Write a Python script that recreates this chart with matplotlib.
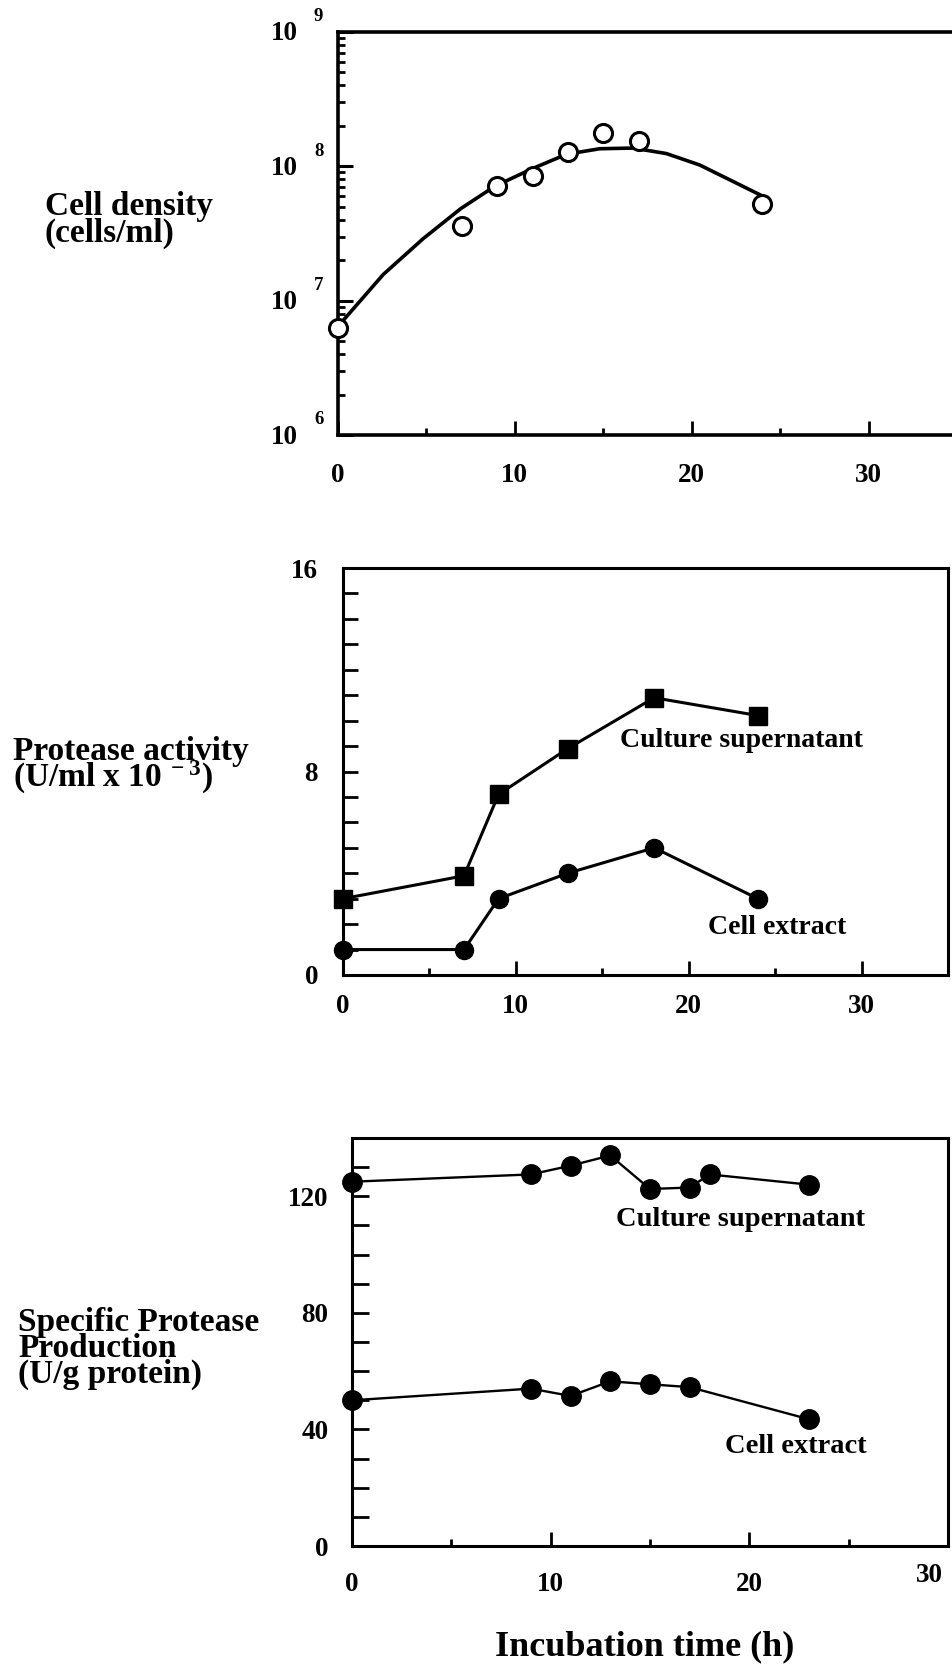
import matplotlib
matplotlib.use("Agg")
import matplotlib.pyplot as plt

# ================================ Data ================================ #

# top panel: cell density (log scale)
t_density = [0, 7, 9, 11, 13, 15, 17, 24]
density = [6.3e6, 3.6e7, 7.1e7, 8.5e7, 1.28e8, 1.76e8, 1.55e8, 5.2e7]
# hand-drawn growth curve
curve_t = [0.3, 2.56, 4.82, 6.95, 8.87, 11.03, 12.92, 14.8, 16.69, 18.57, 20.45, 22.33, 24.2]
curve_log = [6.854, 7.195, 7.462, 7.686, 7.852, 7.985, 8.090, 8.131, 8.136, 8.095, 8.010, 7.888, 7.766]

# middle panel: protease activity (U/ml x 10^-3)
t_activity = [0, 7, 9, 13, 18, 24]
act_supernatant = [3.0, 3.9, 7.1, 8.9, 10.9, 10.2]
act_cell = [1.0, 1.0, 3.0, 4.0, 5.0, 3.0]

# bottom panel: specific protease production (U/g protein)
t_spec_sup = [0, 9, 11, 13, 15, 17, 18, 23]
spec_supernatant = [125, 127.5, 130.5, 134, 122.5, 123, 127.5, 124]
t_spec_cell = [0, 9, 11, 13, 15, 17, 23]
spec_cell = [50, 54, 51.5, 56.5, 55.5, 54.5, 43.5]

x_ticks = [0, 10, 20, 30]
x_minor = [5, 15, 25]

# ================================ Setup ================================ #

plt.rcParams["font.family"] = ["Liberation Serif", "DejaVu Serif"]
plt.rcParams["font.weight"] = "bold"
plt.rcParams["mathtext.fontset"] = "custom"
plt.rcParams["mathtext.rm"] = "Liberation Serif:bold"
plt.rcParams["mathtext.default"] = "rm"

W, H = 952, 1668
fig = plt.figure(figsize=(W / 100, H / 100), dpi=100)


def box(l, t, r, b):
    return [l / W, 1 - b / H, (r - l) / W, (b - t) / H]


def px(x, y):
    return x / W, 1 - y / H


def style_axis(ax, lw, xpad, ypad):
    for s in ax.spines.values():
        s.set_linewidth(lw)
    ax.tick_params(which="both", direction="in", top=False, right=False, labelsize=19.5)
    ax.tick_params(axis="x", which="major", length=10, width=2, pad=xpad)
    ax.tick_params(axis="x", which="minor", length=5, width=2)
    ax.tick_params(axis="y", which="both", pad=ypad, width=2)
    for lab in ax.get_xticklabels() + ax.get_yticklabels():
        lab.set_fontweight("bold")


def side_label(x, y, text, spacing):
    # y is the baseline of the last line, in pixels from the top
    fig.text(*px(x, y), text, fontsize=24, fontweight="bold", ha="left", va="baseline",
             linespacing=spacing, multialignment="left")


# ================================ Cell density ================================ #

ax1 = fig.add_axes(box(338, 32, 957, 435))
ax1.set_yscale("log")
ax1.set_xlim(0, 35)
ax1.set_ylim(1e6, 1e9)
ax1.plot(curve_t, [10 ** v for v in curve_log], color="black", lw=2.6,
         solid_joinstyle="round", solid_capstyle="round")
ax1.plot(t_density, density, "o", mfc="white", mec="black", mew=2.2, ms=13, clip_on=False, zorder=3)
ax1.set_xticks(x_ticks)
ax1.set_xticks(x_minor, minor=True)
ax1.spines["right"].set_visible(False)
style_axis(ax1, 2.6, 20, 6)
ax1.tick_params(axis="y", which="major", length=11, width=2.2)
ax1.tick_params(axis="y", which="minor", length=5, width=2)
ax1.set_yticklabels([], minor=True)
ax1.set_yticks([1e6, 1e7, 1e8, 1e9])
ax1.set_yticklabels([])
for e in [6, 7, 8, 9]:
    ax1.annotate("10", xy=(0, 10 ** e), xycoords=("axes fraction", "data"),
                 xytext=(-40, -2), textcoords="offset pixels", ha="right", va="center",
                 fontsize=19.5, fontweight="bold")
    ax1.annotate(str(e), xy=(0, 10 ** e), xycoords=("axes fraction", "data"),
                 xytext=(-24, 15), textcoords="offset pixels", ha="left", va="center",
                 fontsize=13.5, fontweight="bold")

side_label(45, 242, "Cell density\n(cells/ml)", 0.84)

# ================================ Protease activity ================================ #

ax2 = fig.add_axes(box(343, 568, 948, 975))
ax2.set_xlim(0, 35)
ax2.set_ylim(0, 16)
ax2.plot(t_activity, act_supernatant, "-s", color="black", lw=2.2, ms=13, clip_on=False, zorder=3)
ax2.plot(t_activity, act_cell, "-o", color="black", lw=2.2, ms=13, clip_on=False, zorder=3)
ax2.set_xticks(x_ticks)
ax2.set_xticks(x_minor, minor=True)
ax2.set_yticks([0, 8, 16])
ax2.set_yticks(range(1, 16), minor=True)
style_axis(ax2, 2.2, 14, 18)
ax2.tick_params(axis="y", which="both", length=11)
ax2.text(16.0, 9.2, "Culture supernatant", fontsize=20, fontweight="bold", ha="left", va="center")
ax2.text(21.1, 1.85, "Cell extract", fontsize=20, fontweight="bold", ha="left", va="center")

side_label(13, 787, "Protease activity\n" + r"(U/ml x 10$^{\,-3}$)", 0.72)

# ================================ Specific production ================================ #

ax3 = fig.add_axes(box(352, 1138, 948, 1546))
ax3.set_xlim(0, 30)
ax3.set_ylim(0, 140)
ax3.plot(t_spec_sup, spec_supernatant, "-o", color="black", lw=1.7, ms=14, clip_on=False, zorder=3)
ax3.plot(t_spec_cell, spec_cell, "-o", color="black", lw=1.7, ms=14, clip_on=False, zorder=3)
ax3.set_xticks(x_ticks)
ax3.set_xticks(x_minor, minor=True)
ax3.set_yticks([0, 40, 80, 120])
ax3.set_yticks(range(10, 140, 10), minor=True)
style_axis(ax3, 2.2, 19, 17)
ax3.tick_params(axis="y", which="both", length=12)
# the last label sits a little inside the frame in the original
ax3.set_xticklabels([str(v) for v in x_ticks[:-1]] + [""])
ax3.annotate(str(x_ticks[-1]), xy=(x_ticks[-1], 0), xycoords="data",
             xytext=(-19, -30), textcoords="offset pixels", ha="center", va="center",
             fontsize=19.5, fontweight="bold")
ax3.text(13.3, 112, "Culture supernatant", fontsize=20.5, fontweight="bold", ha="left", va="center")
ax3.text(18.8, 34, "Cell extract", fontsize=20.5, fontweight="bold", ha="left", va="center")

side_label(18, 1383, "Specific Protease\nProduction\n(U/g protein)", 0.8)

fig.text(*px(645, 1647), "Incubation time (h)", fontsize=26, fontweight="bold", ha="center", va="center")

fig.savefig("out.png", dpi=100, facecolor="white")
